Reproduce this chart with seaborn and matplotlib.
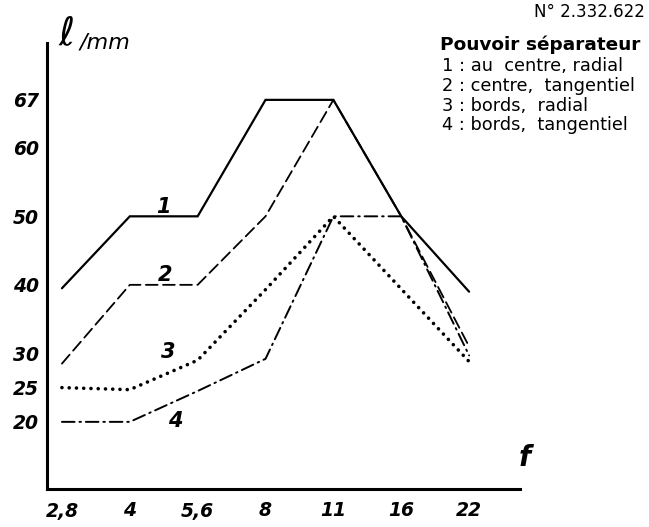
import matplotlib
matplotlib.use("Agg")
import matplotlib.pyplot as plt
import seaborn as sns
import pandas as pd

# ---- data ----
apertures = ["2,8", "4", "5,6", "8", "11", "16", "22"]
centre_radial = [39.5, 50, 50, 67, 67, 50, 39]
centre_tangentiel = [28.5, 40, 40, 50, 67, 50, 31]
bords_radial = [25, 24.7, 29, 39.3, 50, 39.4, 28.8]
bords_tangentiel = [20, 20, 24.5, 29.2, 50, 50, 29.7]
series_names = ["1", "2", "3", "4"]
legend_items = ["1 : au  centre, radial", "2 : centre,  tangentiel",
                "3 : bords,  radial", "4 : bords,  tangentiel"]
y_ticks = [20, 25, 30, 40, 50, 60, 67]

sns.set_style("white")
plt.rcParams["font.family"] = ["DejaVu Sans"]

rows = []
for name, vals in zip(series_names,
                      [centre_radial, centre_tangentiel, bords_radial, bords_tangentiel]):
    for i, v in enumerate(vals):
        rows.append({"pos": i, "value": v, "serie": name})
df = pd.DataFrame(rows)

W, H = 649, 527
fig = plt.figure(figsize=(W / 100, H / 100), dpi=100)
x0, x1, y0, y1 = 47, 520, 43, 489
ax = fig.add_axes([x0 / W, 1 - y1 / H, (x1 - x0) / W, (y1 - y0) / H])

sns.lineplot(data=df, x="pos", y="value", hue="serie", style="serie",
             palette=["black"] * 4, dashes=False, legend=False, ax=ax,
             estimator=None, sort=False)

styles = {
    0: dict(lw=1.6, dashes=None),
    1: dict(lw=1.3, dashes=(6.5, 3.0)),
    2: dict(lw=2.6, dashes=(0.01, 2.0)),
    3: dict(lw=1.4, dashes=(6.5, 2.5, 0.8, 2.5)),
}
for k, line in enumerate(ax.lines[:4]):
    st = styles[k]
    line.set_linewidth(st["lw"])
    if st["dashes"] is not None:
        line.set_dashes(st["dashes"])
    line.set_dash_capstyle("round")
    line.set_solid_capstyle("round")
    line.set_solid_joinstyle("miter")

ax.set_xlim(-0.22, 6.75)
ax.set_ylim(10.2, 75.3)
ax.set_xticks(range(len(apertures)))
ax.set_xticklabels(apertures)
ax.set_yticks(y_ticks)
ax.set_yticklabels([str(t) for t in y_ticks])
ax.set_xlabel("")
ax.set_ylabel("")
for s in ["top", "right"]:
    ax.spines[s].set_visible(False)
for s in ["left", "bottom"]:
    ax.spines[s].set_color("black")
    ax.spines[s].set_linewidth(2.2)
ax.tick_params(axis="both", direction="in", length=4, width=2.5, colors="black",
               labelsize=13.5)
ax.tick_params(axis="y", pad=6)
ax.tick_params(axis="x", pad=9)
for lab in ax.get_xticklabels() + ax.get_yticklabels():
    lab.set_fontstyle("italic")
    lab.set_fontweight("bold")

hand = dict(fontsize=15, fontweight="bold", fontstyle="italic", color="black")
# curve numbers
for name, (px, py) in zip(series_names, [(163, 207), (165, 275), (168, 352), (175, 421)]):
    fig.text(px / W, 1 - py / H, name, ha="center", va="center", **hand)

# axis titles
fig.text(66 / W, 1 - 33 / H, "ℓ", ha="center", va="center", fontsize=28,
         fontstyle="italic", color="black")
fig.text(80 / W, 1 - 42 / H, "/mm", ha="left", va="center", fontsize=16,
         fontstyle="italic", color="black")
fig.text(525 / W, 1 - 458 / H, "f", ha="center", va="center", fontsize=20,
         fontstyle="italic", fontweight="bold", color="black")

# legend block
fig.text(645 / W, 1 - 12 / H, "N° 2.332.622", ha="right", va="center",
         fontsize=12, color="black")
fig.text(440 / W, 1 - 45 / H, "Pouvoir séparateur", ha="left", va="center",
         fontsize=13.3, fontweight="bold", color="black")
for k, item in enumerate(legend_items):
    fig.text(442 / W, 1 - (66 + 19.8 * k) / H, item, ha="left", va="center",
             fontsize=12.8, color="black")

fig.savefig("out.png", dpi=100, facecolor="white")
